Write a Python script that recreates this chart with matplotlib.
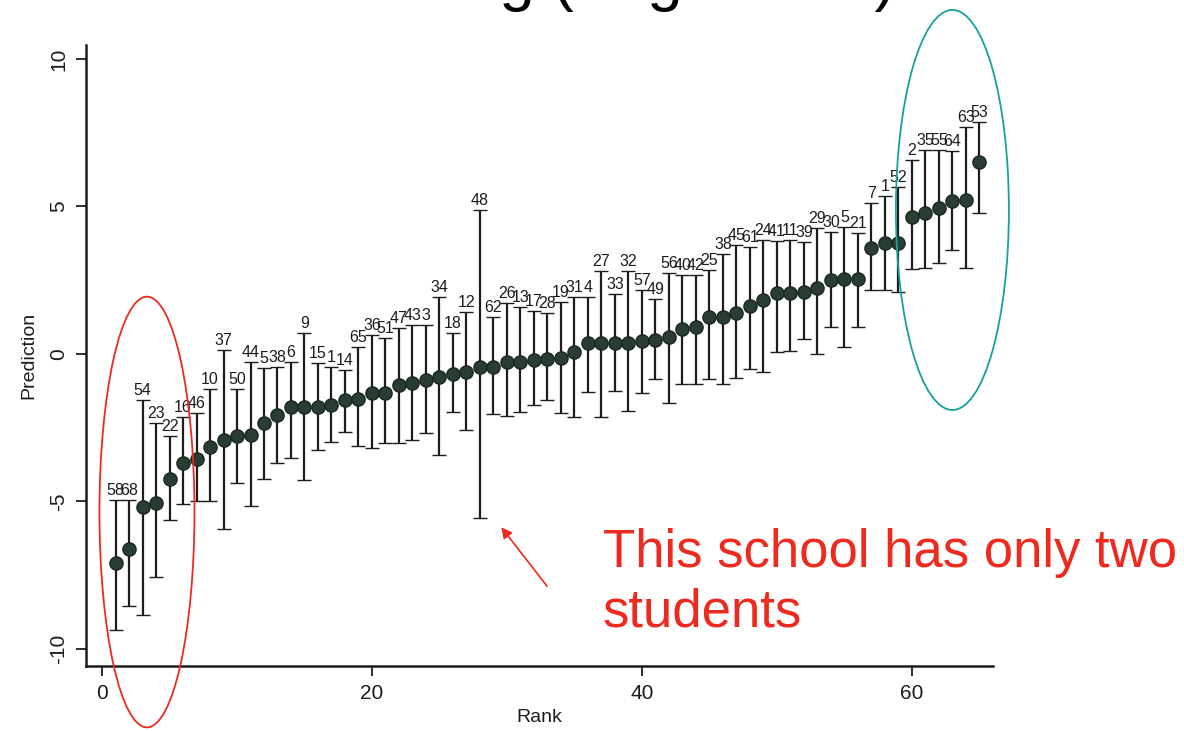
import matplotlib
matplotlib.use("Agg")
import matplotlib.pyplot as plt
from matplotlib.patches import Ellipse

# School effects ranked from lowest to highest, with 95% intervals
rank = list(range(1, 66))

prediction = [-7.08, -6.61, -5.19, -5.05, -4.24, -3.69, -3.56, -3.15, -2.92, -2.78,
              -2.75, -2.34, -2.07, -1.80, -1.80, -1.80, -1.73, -1.56, -1.53, -1.32,
              -1.32, -1.05, -0.98, -0.88, -0.78, -0.68, -0.61, -0.44, -0.44, -0.27,
              -0.27, -0.20, -0.17, -0.14, 0.07, 0.37, 0.37, 0.37, 0.37, 0.44,
              0.47, 0.58, 0.85, 0.92, 1.25, 1.25, 1.39, 1.63, 1.83, 2.07,
              2.07, 2.10, 2.24, 2.51, 2.54, 2.54, 3.59, 3.76, 3.76, 4.64,
              4.78, 4.95, 5.19, 5.22, 6.51]

upper = [-4.95, -4.95, -1.56, -2.34, -2.78, -2.14, -2.00, -1.19, 0.14, -1.19,
         -0.27, -0.47, -0.44, -0.27, 0.71, -0.31, -0.44, -0.54, 0.24, 0.64,
         0.54, 0.88, 0.98, 0.98, 1.93, 0.71, 1.42, 4.88, 1.25, 1.73,
         1.59, 1.46, 1.39, 1.76, 1.93, 1.93, 2.81, 2.03, 2.81, 2.17,
         1.86, 2.75, 2.68, 2.68, 2.85, 3.39, 3.69, 3.63, 3.86, 3.83,
         3.86, 3.80, 4.27, 4.14, 4.31, 4.10, 5.12, 5.36, 5.66, 6.58,
         6.92, 6.92, 6.88, 7.69, 7.86]

lower = [-9.36, -8.54, -8.85, -7.56, -5.63, -5.08, -5.00, -5.00, -5.93, -4.37,
         -5.15, -4.24, -3.69, -3.53, -4.27, -3.25, -2.98, -2.64, -3.12, -3.19,
         -3.02, -3.02, -2.92, -2.68, -3.42, -1.97, -2.58, -5.56, -2.03, -2.10,
         -1.97, -1.73, -1.56, -2.00, -2.14, -1.29, -2.14, -1.25, -1.93, -1.32,
         -0.85, -1.66, -1.02, -1.02, -0.85, -1.02, -0.81, -0.51, -0.61, 0.07,
         0.10, 0.51, 0.00, 0.92, 0.24, 0.92, 2.17, 2.17, 2.10, 2.88,
         2.92, 3.08, 3.53, 2.92, 4.78]

school_id = ["58", "68", "54", "23", "22", "16", "46", "10", "37", "50",
             "44", "5", "38", "6", "9", "15", "1", "14", "65", "36",
             "51", "47", "43", "3", "34", "18", "12", "48", "62", "26",
             "13", "17", "28", "19", "31", "4", "27", "33", "32", "57",
             "49", "56", "40", "42", "25", "38", "45", "61", "24", "41",
             "11", "39", "29", "30", "5", "21", "7", "1", "52", "2",
             "35", "55", "64", "63", "53"]

small_school_rank = 28
note_lines = ["This school has only two", "students"]
title = "School Ranking (Avg. score)"

RED = "#ee2a1f"
TEAL = "#17a0a0"
INK = "#1c1c1c"
DOT = "#2a3d33"

plt.rcParams["font.family"] = ["Liberation Sans", "DejaVu Sans"]

fig = plt.figure(figsize=(11.84, 7.31), dpi=100)
ax = fig.add_axes([0.0726, 0.0889, 0.7660, 0.8495])

yerr = [[p - lo for p, lo in zip(prediction, lower)],
        [up - p for p, up in zip(prediction, upper)]]
ax.errorbar(rank, prediction, yerr=yerr, fmt="o", ms=9.5,
            mfc=DOT, mec="#1a2620", mew=1.0,
            ecolor=INK, elinewidth=1.6, capsize=5, capthick=1.6, zorder=3)

for r, up, lab in zip(rank, upper, school_id):
    ax.annotate(lab, (r, up), xytext=(0, 1.5), textcoords="offset points",
                ha="center", va="bottom", fontsize=11.5, color=INK)

ax.set_xlim(-1.19, 66.0)
ax.set_ylim(-10.58, 10.47)
ax.set_xticks([0, 20, 40, 60])
ax.set_yticks([-10, -5, 0, 5, 10])
ax.set_yticklabels(["-10", "-5", "0", "5", "10"], rotation=90, va="center")
ax.tick_params(direction="out", length=7, width=1.3, colors=INK,
               labelsize=15, pad=6)
for side in ("top", "right"):
    ax.spines[side].set_visible(False)
for side in ("left", "bottom"):
    ax.spines[side].set_linewidth(1.8)
    ax.spines[side].set_color(INK)

ax.set_xlabel("Rank", fontsize=14, color=INK, labelpad=4)
ax.set_ylabel("Prediction", fontsize=14, color=INK, labelpad=8)

# highlight the extremes of the ranking
ax.add_patch(Ellipse((3.33, -5.36), 7.04, 14.6, fill=False, ec=RED, lw=1.3,
                     clip_on=False, zorder=5))
ax.add_patch(Ellipse((63.0, 4.88), 8.37, 13.56, fill=False, ec=TEAL, lw=1.3,
                     clip_on=False, zorder=5))

# note about the widest interval
ax.annotate("", xy=(small_school_rank + 1.45, -5.8), xytext=(33.1, -7.95),
            arrowprops=dict(arrowstyle="-|>", color=RED, lw=1.2,
                            mutation_scale=16), annotation_clip=False)
ax.text(37.1, -7.22, note_lines[0], color=RED, fontsize=38,
        ha="left", va="baseline", clip_on=False)
ax.text(37.1, -9.25, note_lines[1], color=RED, fontsize=38,
        ha="left", va="baseline", clip_on=False)

# slide heading sitting just above the top edge
fig.text(88 / 1184, 1.0 + 1 / 731, title, fontsize=46, color="black",
         ha="left", va="baseline")

fig.savefig("out.png", dpi=100, facecolor="white")
